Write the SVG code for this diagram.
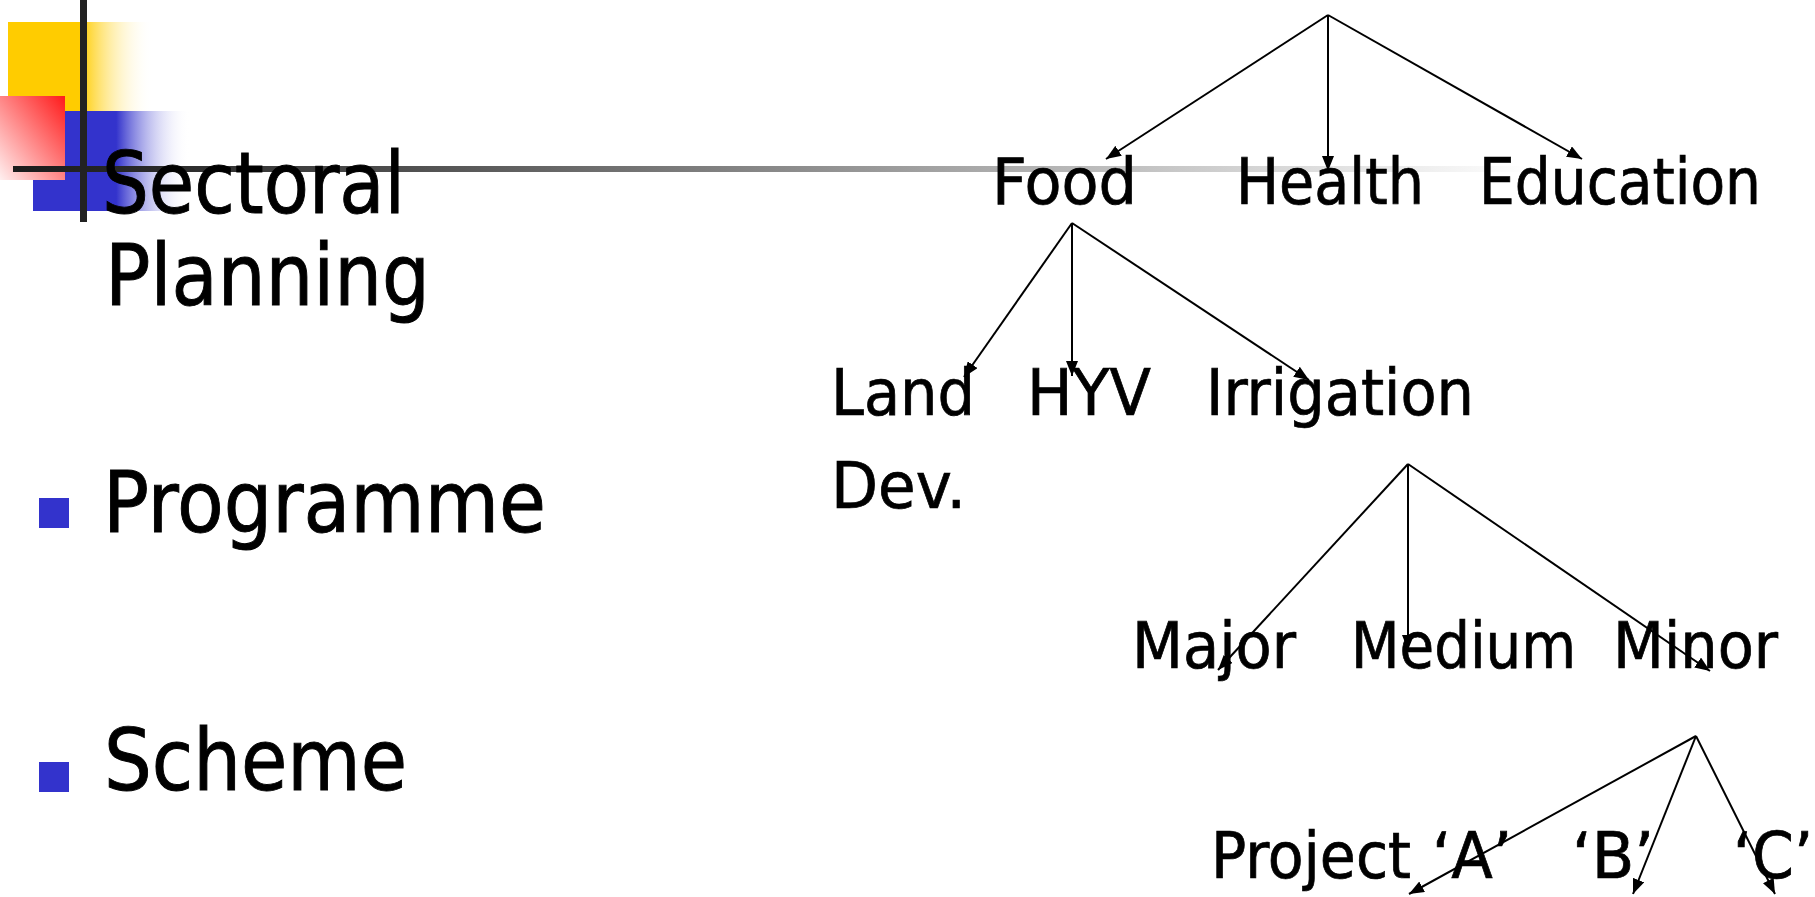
<svg xmlns="http://www.w3.org/2000/svg" width="1815" height="897" viewBox="0 0 1815 897">
<style>
.big{font-family:"DejaVu Sans Condensed","DejaVu Sans",sans-serif;font-size:86px;fill:#000;stroke:#000;stroke-width:0.9}
.lbl{font-family:"DejaVu Sans Condensed","DejaVu Sans",sans-serif;font-size:64px;fill:#000;stroke:#000;stroke-width:0.7}
.edge{stroke:#000;stroke-width:2;fill:none;marker-end:url(#arr)}
.bullet{fill:#3333CC}
</style>
<defs>
<marker id="arr" markerUnits="userSpaceOnUse" markerWidth="16" markerHeight="12" refX="15" refY="6" orient="auto">
<path d="M0,0 L15,6 L0,12 z" fill="#000"/>
</marker>
<linearGradient id="gY" x1="0" y1="0" x2="1" y2="0">
<stop offset="0" stop-color="#FFCC00"/><stop offset="0.5" stop-color="#FFCC00"/><stop offset="1" stop-color="#FFFFFF" stop-opacity="0"/>
</linearGradient>
<linearGradient id="gB" x1="0" y1="0" x2="1" y2="0">
<stop offset="0" stop-color="#3333CC"/><stop offset="0.53" stop-color="#3333CC"/><stop offset="1" stop-color="#FFFFFF" stop-opacity="0"/>
</linearGradient>
<linearGradient id="gR" x1="1" y1="0" x2="0" y2="1">
<stop offset="0" stop-color="#FF1A1A"/><stop offset="1" stop-color="#FFF0F0"/>
</linearGradient>
<linearGradient id="gL" gradientUnits="userSpaceOnUse" x1="13" y1="0" x2="1530" y2="0">
<stop offset="0" stop-color="#1C1C1C"/><stop offset="0.1" stop-color="#2a2a2a"/><stop offset="1" stop-color="#FFFFFF"/>
</linearGradient>
</defs>
<rect width="1815" height="897" fill="#fff"/>
<g id="decoration">
<rect x="8" y="22" width="145" height="89" fill="url(#gY)"/>
<rect x="33" y="111" width="157" height="100" fill="url(#gB)"/>
<rect x="0" y="96" width="65" height="84" fill="url(#gR)"/>
<rect x="13" y="166" width="1530" height="6" fill="url(#gL)"/>
<rect x="80" y="0" width="7" height="222" fill="#222"/>
</g>
<g id="bullets">
<rect class="bullet" x="39" y="498" width="30" height="30"/>
<rect class="bullet" x="39" y="762" width="30" height="30"/>
</g>
<g id="left-list">
<text class="big" x="102" y="213" textLength="303" lengthAdjust="spacingAndGlyphs">Sectoral</text>
<text class="big" x="105" y="305" textLength="325" lengthAdjust="spacingAndGlyphs">Planning</text>
<text class="big" x="103" y="532" textLength="443" lengthAdjust="spacingAndGlyphs">Programme</text>
<text class="big" x="104" y="790" textLength="303" lengthAdjust="spacingAndGlyphs">Scheme</text>
</g>
<g id="connectors">
<line class="edge" x1="1328" y1="15" x2="1106" y2="159"/>
<line class="edge" x1="1328" y1="15" x2="1328" y2="171"/>
<line class="edge" x1="1328" y1="15" x2="1582" y2="159"/>
<line class="edge" x1="1072" y1="223" x2="964" y2="377"/>
<line class="edge" x1="1072" y1="223" x2="1072" y2="376"/>
<line class="edge" x1="1072" y1="223" x2="1309" y2="380"/>
<line class="edge" x1="1408" y1="464" x2="1218" y2="670"/>
<line class="edge" x1="1408" y1="464" x2="1408" y2="650"/>
<line class="edge" x1="1408" y1="464" x2="1710" y2="671"/>
<line class="edge" x1="1696" y1="736" x2="1409" y2="894"/>
<line class="edge" x1="1696" y1="736" x2="1633" y2="894"/>
<line class="edge" x1="1696" y1="736" x2="1775" y2="894"/>
</g>
<g id="food"><text class="lbl" x="992" y="204" textLength="145" lengthAdjust="spacingAndGlyphs">Food</text></g>
<g id="health"><text class="lbl" x="1236" y="204" textLength="188" lengthAdjust="spacingAndGlyphs">Health</text></g>
<g id="education"><text class="lbl" x="1479" y="204" textLength="282" lengthAdjust="spacingAndGlyphs">Education</text></g>
<g id="land-dev">
<text class="lbl" x="831" y="415" textLength="144" lengthAdjust="spacingAndGlyphs">Land</text>
<text class="lbl" x="831" y="508" textLength="135" lengthAdjust="spacingAndGlyphs">Dev.</text>
</g>
<g id="hyv"><text class="lbl" x="1027" y="415" textLength="124" lengthAdjust="spacingAndGlyphs">HYV</text></g>
<g id="irrigation"><text class="lbl" x="1206" y="415" textLength="268" lengthAdjust="spacingAndGlyphs">Irrigation</text></g>
<g id="major"><text class="lbl" x="1132" y="668" textLength="164" lengthAdjust="spacingAndGlyphs">Major</text></g>
<g id="medium"><text class="lbl" x="1351" y="668" textLength="225" lengthAdjust="spacingAndGlyphs">Medium</text></g>
<g id="minor"><text class="lbl" x="1613" y="668" textLength="165" lengthAdjust="spacingAndGlyphs">Minor</text></g>
<g id="project-a">
<text class="lbl" x="1211" y="878" textLength="200" lengthAdjust="spacingAndGlyphs">Project</text>
<text class="lbl" x="1432" y="878" textLength="80" lengthAdjust="spacingAndGlyphs">‘A’</text>
</g>
<g id="b"><text class="lbl" x="1572" y="878" textLength="82" lengthAdjust="spacingAndGlyphs">‘B’</text></g>
<g id="c"><text class="lbl" x="1733" y="878" textLength="80" lengthAdjust="spacingAndGlyphs">‘C’</text></g>
</svg>
